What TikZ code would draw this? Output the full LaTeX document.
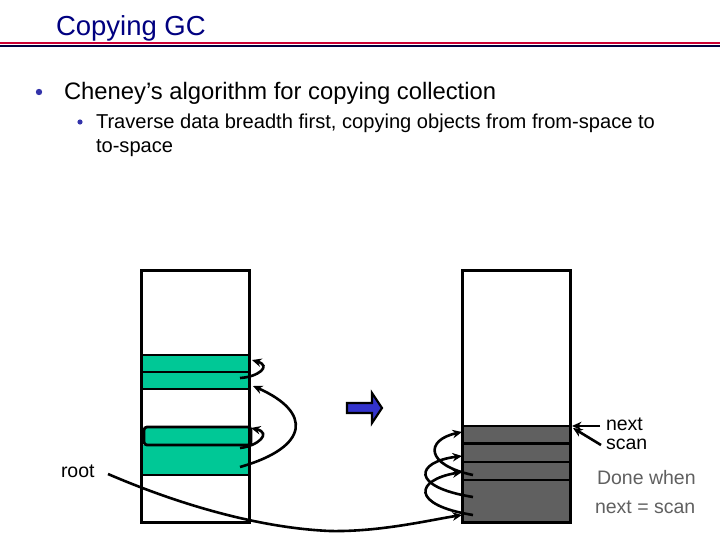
\documentclass[tikz,border=0pt]{standalone}
\usepackage{fontspec}
\setmainfont{Liberation Sans}
\usetikzlibrary{arrows.meta}
\definecolor{titleblue}{RGB}{0,0,128}
\definecolor{rulered}{RGB}{204,0,51}
\definecolor{rulenavy}{RGB}{0,0,64}
\definecolor{bulletblue}{RGB}{51,51,170}
\definecolor{band}{RGB}{0,200,150}
\definecolor{copied}{RGB}{96,96,96}
\definecolor{donegray}{RGB}{96,96,96}
\definecolor{arrowblue}{RGB}{51,51,204}
\begin{document}
\begin{tikzpicture}[x=1pt,y=-1pt,
  txt/.style={anchor=base west,inner sep=0pt,outer sep=0pt},
  box/.style={draw=black,line width=3pt},
  sep/.style={draw=black,line width=2.8pt},
  ptr/.style={draw=black,line width=2.6pt,-{Stealth[length=9.5pt,width=8.5pt]}},
  lbl/.style={txt,font=\fontsize{19.5}{22}\selectfont}]
\useasboundingbox (0,0) rectangle (720,540);
\fill[white] (0,0) rectangle (720,540);
% title
\node[txt,text=titleblue,font=\fontsize{27.5}{30}\selectfont] (title) at (56,36) {Copying GC};
\fill[rulered] (0,42) rectangle (720,44.2);
\fill[rulenavy] (0,45) rectangle (720,47.2);
% bullets
\fill[bulletblue] (39,92) circle (3.2);
\node[txt,font=\fontsize{23.8}{28}\selectfont] (b1) at (64,99.5) {Cheney’s algorithm for copying collection};
\fill[bulletblue] (80,122) circle (2.6);
\node[txt,font=\fontsize{20.1}{24}\selectfont] (b2) at (96,129) {Traverse data breadth first, copying objects from from-space to};
\node[txt,font=\fontsize{20.1}{24}\selectfont] (b3) at (96,153) {to-space};
% left stack (from-space)
\fill[band] (141,355) rectangle (249,389);
\fill[band] (141,445) rectangle (249,475);
\fill[band,rounded corners=3pt] (145,427) -- (251,427) -- (251,445) -- (145,445) -- cycle;
\draw[sep,rounded corners=3pt] (144,427) -- (251,427) -- (251,445) -- (144,445) -- cycle;
\draw[sep] (141,355) -- (249,355);
\draw[sep] (141,372) -- (249,372);
\draw[sep] (141,389) -- (249,389);
\draw[sep] (141,475) -- (249,475);
\node[box,minimum width=108pt,minimum height=252pt,inner sep=0pt] (from) at (195,396) {};
% right stack (to-space)
\fill[copied] (462,426) rectangle (570,522);
\draw[sep] (462,426) -- (570,426);
\draw[sep] (462,443.5) -- (570,443.5);
\draw[sep] (462,462) -- (570,462);
\draw[sep] (462,480) -- (570,480);
\node[box,minimum width=108pt,minimum height=252pt,inner sep=0pt] (to) at (516,396) {};
% block arrow
\draw[fill=arrowblue,draw=black,line width=2.2pt,line join=miter]
  (347,403) -- (372,403) -- (372,393) -- (382,408) -- (372,423) -- (372,413) -- (347,413) -- cycle;
% labels
\node[lbl] (root) at (61,477) {root};
\node[lbl] (next) at (606,430.5) {next};
\node[lbl] (scan) at (606,449) {scan};
\node[lbl,text=donegray] (done1) at (597,484.5) {Done when};
\node[lbl,text=donegray] (done2) at (595,513.5) {next = scan};
% coordinates for pointers
\coordinate (a1s) at (240,378);
\coordinate (a1e) at (252,360);
\coordinate (a2s) at (240,448);
\coordinate (a2e) at (251,428);
\coordinate (a3s) at (240,467);
\coordinate (a3e) at (253,386);
\coordinate (rs) at (108,474);
\coordinate (re) at (462,515);
\coordinate (c1s) at (473,515);
\coordinate (c1e) at (462,472);
\coordinate (c2s) at (473,497);
\coordinate (c2e) at (462,456);
\coordinate (c3s) at (473,475);
\coordinate (c3e) at (462,432);
\coordinate (nexts) at (600,426);
\coordinate (nexte) at (572,426);
\coordinate (scans) at (601,445);
\coordinate (scane) at (573,428);
% pointers in from-space
\draw[ptr] (a1s) .. controls (258,377) and (272,366) .. (a1e);
\draw[ptr] (a2s) .. controls (258,446) and (272,433) .. (a2e);
\draw[ptr] (a3s) .. controls (310,447) and (312,412) .. (a3e);
% root pointer
\draw[ptr] (rs) .. controls (180,505) and (260,528) .. (330,531) .. controls (380,532) and (430,520) .. (re);
% pointers in to-space
\draw[ptr] (c1s) .. controls (410,505) and (415,480) .. (c1e);
\draw[ptr] (c2s) .. controls (410,487) and (415,462) .. (c2e);
\draw[ptr] (c3s) .. controls (425,465) and (425,440) .. (c3e);
% next / scan
\draw[ptr] (nexts) -- (nexte);
\draw[ptr] (scans) -- (scane);
\end{tikzpicture}
\end{document}
